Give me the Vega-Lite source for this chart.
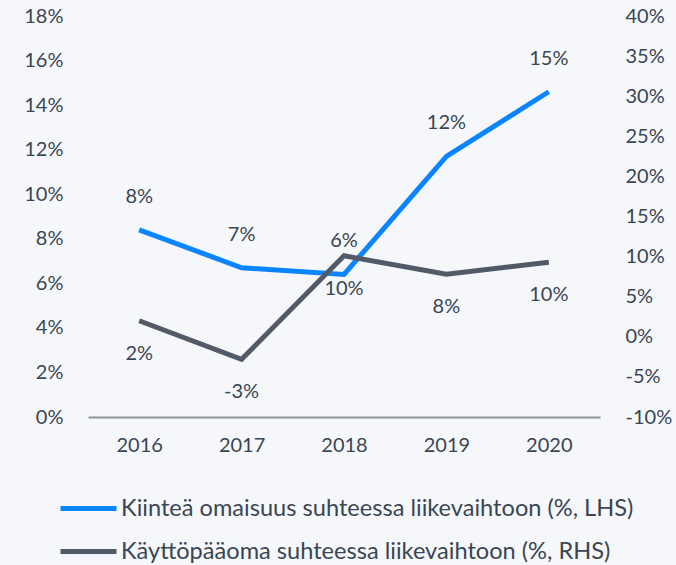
{
  "$schema": "https://vega.github.io/schema/vega-lite/v6.json",
  "width": 512,
  "height": 401,
  "autosize": "none",
  "padding": {"left": 88, "top": 16, "right": 76, "bottom": 148},
  "background": "#f5f7fb",
  "config": {
    "view": {"stroke": null},
    "font": "Lato",
    "text": {"font": "Lato"}
  },
  "data": {
    "values": [
      {"year": "2016", "series": "Kiinteä omaisuus suhteessa liikevaihtoon (%, LHS)", "lhs": 8.4, "label": "8%"},
      {"year": "2017", "series": "Kiinteä omaisuus suhteessa liikevaihtoon (%, LHS)", "lhs": 6.7, "label": "7%"},
      {"year": "2018", "series": "Kiinteä omaisuus suhteessa liikevaihtoon (%, LHS)", "lhs": 6.4, "label": "6%"},
      {"year": "2019", "series": "Kiinteä omaisuus suhteessa liikevaihtoon (%, LHS)", "lhs": 11.7, "label": "12%"},
      {"year": "2020", "series": "Kiinteä omaisuus suhteessa liikevaihtoon (%, LHS)", "lhs": 14.6, "label": "15%"},
      {"year": "2016", "series": "Käyttöpääoma suhteessa liikevaihtoon (%, RHS)", "rhs": 2.0, "label": "2%"},
      {"year": "2017", "series": "Käyttöpääoma suhteessa liikevaihtoon (%, RHS)", "rhs": -2.8, "label": "-3%"},
      {"year": "2018", "series": "Käyttöpääoma suhteessa liikevaihtoon (%, RHS)", "rhs": 10.1, "label": "10%"},
      {"year": "2019", "series": "Käyttöpääoma suhteessa liikevaihtoon (%, RHS)", "rhs": 7.8, "label": "8%"},
      {"year": "2020", "series": "Käyttöpääoma suhteessa liikevaihtoon (%, RHS)", "rhs": 9.3, "label": "10%"}
    ]
  },
  "encoding": {
    "x": {
      "field": "year", "type": "ordinal",
      "scale": {"type": "point", "padding": 0.5},
      "axis": {
        "title": null, "labelAngle": 0, "ticks": false,
        "domainColor": "#8e949c", "domainWidth": 2,
        "labelFontSize": 20, "labelColor": "#3a4653", "labelPadding": 18, "labelFont": "Lato"
      }
    },
    "color": {
      "field": "series", "type": "nominal",
      "scale": {
        "domain": ["Kiinteä omaisuus suhteessa liikevaihtoon (%, LHS)", "Käyttöpääoma suhteessa liikevaihtoon (%, RHS)"],
        "range": ["#0a84ff", "#525a68"]
      },
      "legend": {
        "title": null, "orient": "none", "direction": "vertical",
        "legendX": -30, "legendY": 462, "padding": 0,
        "symbolType": "stroke", "symbolSize": 3136, "symbolStrokeWidth": 5,
        "labelFontSize": 23.6, "labelColor": "#3a4653", "labelFont": "Lato",
        "labelOffset": 2, "rowPadding": -15, "labelLimit": 700
      }
    }
  },
  "layer": [
    {
      "transform": [{"filter": "datum.lhs != null"}],
      "encoding": {
        "y": {
          "field": "lhs", "type": "quantitative",
          "scale": {"domain": [0, 18]},
          "axis": {
            "title": null, "orient": "left", "values": [0,2,4,6,8,10,12,14,16,18],
            "labelExpr": "datum.value + '%'", "domain": false, "ticks": false, "grid": false,
            "labelFontSize": 20, "labelColor": "#3a4653", "labelPadding": 25, "labelFont": "Lato"
          }
        }
      },
      "layer": [
        {"mark": {"type": "line", "strokeWidth": 5}},
        {"mark": {"type": "text", "dy": -33, "fontSize": 20},
         "encoding": {"text": {"field": "label"}, "color": {"value": "#3a4653"}}}
      ]
    },
    {
      "transform": [{"filter": "datum.rhs != null"}],
      "encoding": {
        "y": {
          "field": "rhs", "type": "quantitative",
          "scale": {"domain": [-10, 40]},
          "axis": {
            "title": null, "orient": "right", "values": [-10,-5,0,5,10,15,20,25,30,35,40],
            "labelExpr": "datum.value + '%'", "domain": false, "ticks": false, "grid": false,
            "labelFontSize": 20, "labelColor": "#3a4653", "labelPadding": 25, "labelFont": "Lato"
          }
        }
      },
      "layer": [
        {"mark": {"type": "line", "strokeWidth": 5}},
        {"mark": {"type": "text", "dy": 33, "fontSize": 20},
         "encoding": {"text": {"field": "label"}, "color": {"value": "#3a4653"}}}
      ]
    }
  ],
  "resolve": {"scale": {"y": "independent"}}
}
